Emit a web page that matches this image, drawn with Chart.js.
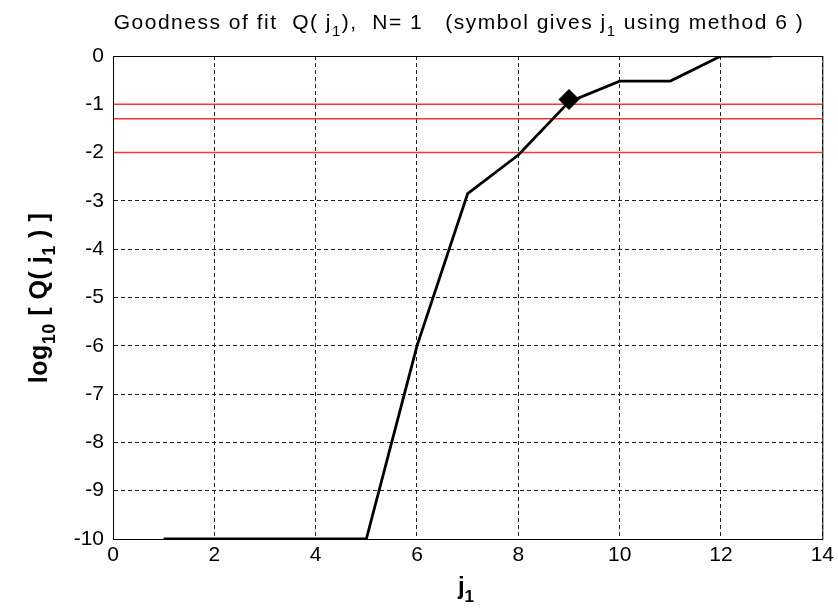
<!DOCTYPE html>
<html>
<head>
<meta charset="utf-8">
<script src="https://cdn.jsdelivr.net/npm/chart.js@4/dist/chart.umd.min.js"></script>
<style>
  html, body { margin: 0; padding: 0; background: #fff; }
</style>
</head>
<body>
<canvas id="fitChart" width="838" height="608"></canvas>
<script>
// Données
const j1Values = [1, 2, 3, 4, 5, 6, 7, 8, 9, 10, 11, 12, 13];
const logQ = [-10, -10, -10, -10, -10, -6, -2.85, -2.05, -0.95, -0.52, -0.52, 0, 0];
const refLevels = [-1, -1.3, -2];
const chosenJ1 = [9];
const chosenLogQ = [-0.9];
const xRange = [0, 14];
const yRange = [-10, 0];

// Texte avec indices (morceaux [texte, estIndice])
function drawRich(ctx, parts, x, y, size, weight, align, spacing) {
    const family = '"Liberation Sans", Arial, sans-serif';
    const mainFont = weight + ' ' + size + 'px ' + family;
    const subFont = weight + ' ' + Math.round(size * 0.72) + 'px ' + family;
    ctx.letterSpacing = (spacing || 0) + 'px';
    let total = 0;
    parts.forEach(p => {
        ctx.font = p[1] ? subFont : mainFont;
        total += ctx.measureText(p[0]).width;
    });
    let cx = align === 'center' ? x - total / 2 : x;
    ctx.textAlign = 'left';
    ctx.textBaseline = 'alphabetic';
    parts.forEach(p => {
        ctx.font = p[1] ? subFont : mainFont;
        ctx.fillText(p[0], cx, p[1] ? y + size * 0.32 : y);
        cx += ctx.measureText(p[0]).width;
    });
    ctx.letterSpacing = '0px';
}

const labelsPlugin = {
    id: 'labels',
    afterDraw(chart) {
        const ctx = chart.ctx;
        const area = chart.chartArea;
        ctx.save();
        // cadre du graphique
        ctx.strokeStyle = '#000';
        ctx.lineWidth = 1;
        ctx.strokeRect(area.left + 0.5, area.top + 0.5, area.right - area.left, area.bottom - area.top);

        ctx.fillStyle = '#000';
        // titre
        drawRich(ctx, [['Goodness of fit  Q( j', false], ['1', true], ['),  N= 1   (symbol gives j', false], ['1', true], [' using method 6 )', false]],
            459, 29, 21, 'normal', 'center', 1.5);
        // titre axe x
        drawRich(ctx, [['j', false], ['1', true]], 466, 594, 24, 'bold', 'center', 0);
        // titre axe y
        ctx.translate(47, 298);
        ctx.rotate(-Math.PI / 2);
        drawRich(ctx, [['log', false], ['10', true], [' [ Q( j', false], ['1', true], [' ) ]', false]], 0, 0, 25, 'bold', 'center', 0.5);
        ctx.restore();
    }
};

const ctx = document.getElementById('fitChart').getContext('2d');

new Chart(ctx, {
    type: 'line',
    data: {
        datasets: [
            {
                label: 'choix j1',
                data: chosenJ1.map((x, i) => ({ x: x, y: chosenLogQ[i] })),
                showLine: false,
                pointStyle: 'rectRot',
                pointRadius: 10,
                backgroundColor: '#000',
                borderColor: '#000'
            },
            {
                label: 'log10 Q',
                data: j1Values.map((x, i) => ({ x: x, y: logQ[i] })),
                borderColor: '#000',
                borderWidth: 2.8,
                pointRadius: 0,
                tension: 0
            },
            ...refLevels.map(level => ({
                label: 'niveau ' + level,
                data: [{ x: xRange[0], y: level }, { x: xRange[1], y: level }],
                borderColor: '#ff3333',
                borderWidth: 1.5,
                pointRadius: 0
            }))
        ]
    },
    options: {
        responsive: false,
        animation: false,
        devicePixelRatio: 1,
        layout: { padding: { top: 56, right: 14, left: 0, bottom: 0 } },
        plugins: {
            legend: { display: false },
            title: { display: false },
            tooltip: { enabled: false }
        },
        scales: {
            x: {
                type: 'linear',
                min: xRange[0],
                max: xRange[1],
                ticks: {
                    stepSize: 2,
                    color: '#000',
                    padding: 4,
                    maxRotation: 0,
                    font: { family: '"Liberation Sans", Arial, sans-serif', size: 21 }
                },
                grid: { color: '#222', lineWidth: 1, drawTicks: false },
                border: { display: true, color: '#000', width: 1, dash: [4, 3] },
                afterFit: scale => { scale.height = 69; }
            },
            y: {
                type: 'linear',
                min: yRange[0],
                max: yRange[1],
                ticks: {
                    stepSize: 1,
                    color: '#000',
                    padding: 9,
                    font: { family: '"Liberation Sans", Arial, sans-serif', size: 21 }
                },
                grid: { color: '#222', lineWidth: 1, drawTicks: false },
                border: { display: true, color: '#000', width: 1, dash: [4, 3] },
                afterFit: scale => { scale.width = 113; }
            }
        }
    },
    plugins: [labelsPlugin]
});
</script>
</body>
</html>
